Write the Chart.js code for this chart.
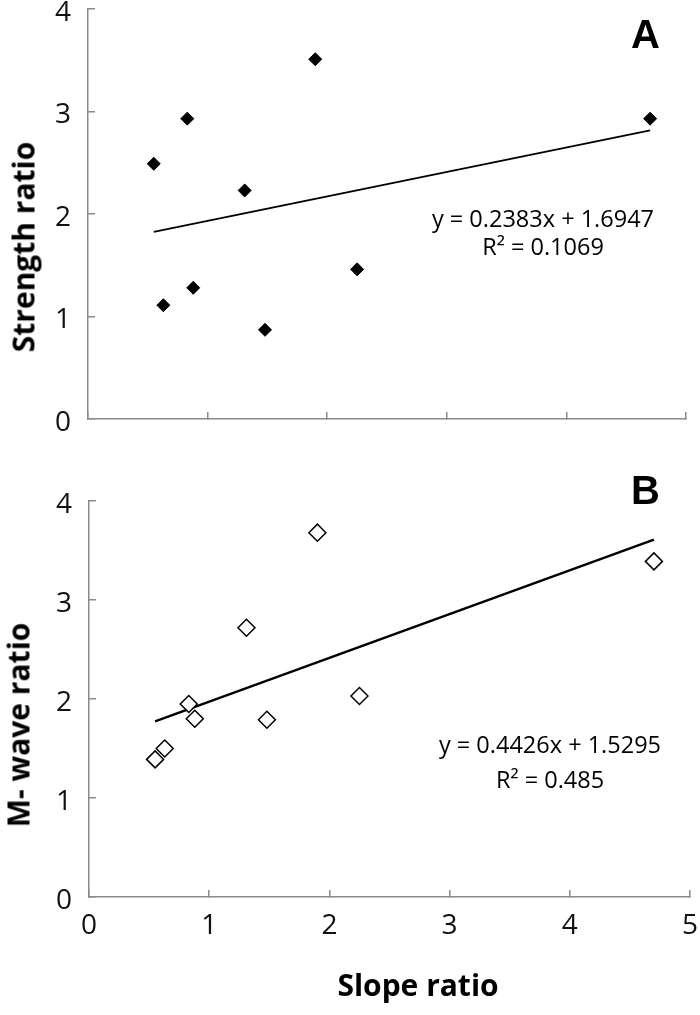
<!DOCTYPE html>
<html>
<head>
<meta charset="utf-8">
<script src="https://cdn.jsdelivr.net/npm/chart.js@4.4.1/dist/chart.umd.min.js"></script>
<style>
  html, body { margin: 0; padding: 0; background: #fff; }
  #wrap { position: relative; width: 700px; height: 1015px; overflow: hidden; background:#fff; }
  canvas { position: absolute; left: 0; }
  .t { position: absolute; white-space: nowrap; color: #000; }
  .ytitle { font: bold 30px "Open Sans", sans-serif; transform: translate(-50%, -50%) rotate(-90deg); }
  .xtitle { font: bold 30px "Open Sans", sans-serif; transform: translate(-50%, 0); }
  .panel { font: bold 40px "Liberation Sans", Arial, sans-serif; }
  .eq { font: 23.5px "Open Sans", sans-serif; text-align: center; transform: translate(-50%, 0); }
</style>
</head>
<body>
<div id="wrap">
  <canvas id="cA" width="700" height="440" style="top:0px"></canvas>
  <canvas id="cB" width="700" height="545" style="top:470px"></canvas>
  <div class="t ytitle" style="left:23px; top:247px;">Strength ratio</div>
  <div class="t ytitle" style="left:18px; top:725px;">M- wave ratio</div>
  <div class="t xtitle" style="left:418px; top:964px;">Slope ratio</div>
  <div class="t panel" style="left:631px; top:12px;">A</div>
  <div class="t panel" style="left:631px; top:468px;">B</div>
  <div class="t eq" style="left:543px; top:204px; line-height:28px;">y = 0.2383x + 1.6947<br>R² = 0.1069</div>
  <div class="t eq" style="left:550px; top:727px; line-height:35px;">y = 0.4426x + 1.5295<br>R² = 0.485</div>
</div>
<script>
// ---- data ----
const slopeRatio    = [0.55, 0.63, 0.83, 0.88, 1.31, 1.48, 1.90, 2.25, 4.70];
const strengthRatio = [2.49, 1.11, 2.93, 1.28, 2.23, 0.87, 3.51, 1.46, 2.93];
const mwaveRatio    = [1.39, 1.50, 1.95, 1.80, 2.72, 1.79, 3.68, 2.03, 3.39];
const fitA = [0.2383, 1.6947]; // slope, intercept
const fitB = [0.4426, 1.5295];
const xTicks = [0, 1, 2, 3, 4, 5];
const yTicks = [0, 1, 2, 3, 4];

const AXIS = '#8a8a8a';
const xMin = Math.min(...slopeRatio), xMax = Math.max(...slopeRatio);

function pts(xs, ys) { return xs.map((x, i) => ({x, y: ys[i]})); }
function trend(f) { return [{x: xMin, y: f[0]*xMin + f[1]}, {x: xMax, y: f[0]*xMax + f[1]}]; }

function makeChart(id, ys, f, opts) {
  const ctx = document.getElementById(id);
  return new Chart(ctx, {
    type: 'scatter',
    data: {
      datasets: [
        {
          data: pts(slopeRatio, ys),
          pointStyle: 'rectRot',
          pointRadius: opts.r,
          pointBackgroundColor: opts.fill,
          pointBorderColor: '#000',
          pointBorderWidth: opts.bw,
          showLine: false
        },
        {
          data: trend(f),
          showLine: true,
          borderColor: '#000',
          borderWidth: opts.lw,
          pointRadius: 0,
          fill: false
        }
      ]
    },
    options: {
      responsive: false,
      animation: false,
      events: [],
      layout: { padding: opts.pad },
      plugins: { legend: { display: false }, tooltip: { enabled: false } },
      scales: {
        x: {
          type: 'linear', min: 0, max: 5,
          afterBuildTicks: s => { s.ticks = xTicks.map(v => ({value: v})); },
          ticks: { display: opts.xLabels, color: '#111', padding: opts.xPad,
                   font: { family: 'Open Sans', size: 28 } },
          grid: { display: true, drawOnChartArea: false, drawTicks: true, tickLength: -7,
                  color: AXIS, lineWidth: 1.5 },
          border: { display: true, color: AXIS, width: 1.5 },
          afterFit: s => { s.height = opts.xH; s.paddingLeft = 0; s.paddingRight = 0; }
        },
        y: {
          type: 'linear', min: 0, max: 4,
          afterBuildTicks: s => { s.ticks = yTicks.map(v => ({value: v})); },
          ticks: { color: '#111', padding: 24, labelOffset: 4,
                   font: { family: 'Open Sans', size: 28 } },
          grid: { display: true, drawOnChartArea: false, drawTicks: true, tickLength: -7,
                  color: AXIS, lineWidth: 1.5 },
          border: { display: true, color: AXIS, width: 1.5 },
          afterFit: s => { s.width = opts.yW; s.paddingTop = 0; s.paddingBottom = 0; }
        }
      }
    }
  });
}

makeChart('cA', strengthRatio, fitA, {
  r: 6.5, fill: '#000', bw: 1, lw: 1.8, xLabels: false, xPad: 0,
  pad: { top: 9, right: 14, left: 0, bottom: 0 }, xH: 21, yW: 88
});
makeChart('cB', mwaveRatio, fitB, {
  r: 8.5, fill: '#fff', bw: 1.5, lw: 2.4, xLabels: true, xPad: 19,
  pad: { top: 31, right: 10, left: 0, bottom: 0 }, xH: 118, yW: 89
});
</script>
</body>
</html>
